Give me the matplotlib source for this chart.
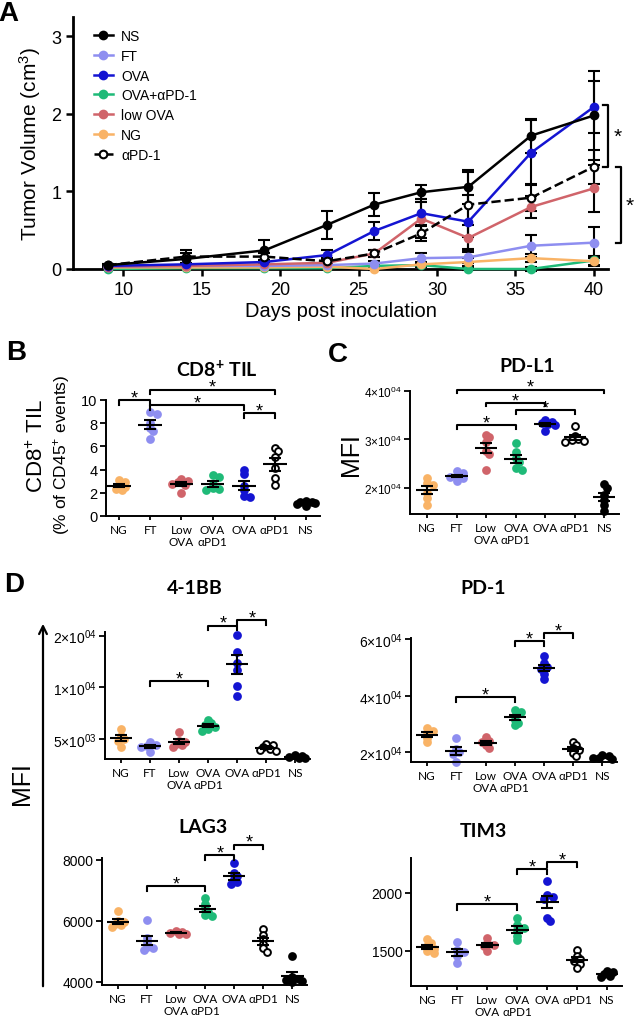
import numpy as np
import matplotlib
matplotlib.use("Agg")
import matplotlib.pyplot as plt
from matplotlib.lines import Line2D
from matplotlib.patches import FancyArrowPatch
from matplotlib.ticker import NullLocator

plt.rcParams['font.family'] = ['Liberation Sans', 'DejaVu Sans']
plt.rcParams['mathtext.fontset'] = 'custom'
plt.rcParams['mathtext.rm'] = 'Liberation Sans'
plt.rcParams['mathtext.it'] = 'Liberation Sans:italic'
plt.rcParams['mathtext.bf'] = 'Liberation Sans:bold'

# ---------------- panel A: tumour growth ----------------
days = [9, 14, 19, 23, 26, 29, 32, 36, 40]
ns_vol = [0.05, 0.13, 0.24, 0.57, 0.83, 0.99, 1.06, 1.72, 1.98]
ns_err = [0.02, 0.08, 0.13, 0.18, 0.15, 0.09, 0.22, 0.22, 0.58]
ft_vol = [0.03, 0.04, 0.04, 0.05, 0.07, 0.14, 0.15, 0.30, 0.34]
ft_err = [0.01, 0.02, 0.02, 0.02, 0.03, 0.06, 0.07, 0.14, 0.20]
ova_vol = [0.04, 0.06, 0.09, 0.18, 0.49, 0.72, 0.61, 1.50, 2.09]
ova_err = [0.01, 0.02, 0.03, 0.07, 0.12, 0.15, 0.35, 0.42, 0.34]
ovapd1_vol = [0.0, 0.01, 0.01, 0.01, 0.04, 0.05, 0.0, 0.0, 0.11]
ovapd1_err = [0.0, 0.01, 0.01, 0.01, 0.02, 0.03, 0.01, 0.02, 0.06]
low_vol = [0.03, 0.04, 0.06, 0.08, 0.20, 0.65, 0.40, 0.80, 1.04]
low_err = [0.01, 0.02, 0.02, 0.03, 0.04, 0.25, 0.17, 0.14, 0.30]
ng_vol = [0.02, 0.02, 0.02, 0.03, 0.0, 0.06, 0.09, 0.14, 0.10]
ng_err = [0.01, 0.01, 0.01, 0.01, 0.01, 0.03, 0.05, 0.05, 0.06]
pd1_vol = [0.05, 0.16, 0.16, 0.10, 0.20, 0.46, 0.83, 0.92, 1.32]
pd1_err = [0.01, 0.08, 0.05, 0.04, 0.04, 0.10, 0.42, 0.17, 0.22]

# ---------------- dot plots ----------------
cats = ['NG', 'FT', 'Low\nOVA', 'OVA\nαPD1', 'OVA', 'αPD1', 'NS']
colors = ['#F9B366', '#8E8EF0', '#D0646A', '#1FBA78', '#1414D2', 'black', 'black']

cd8 = [[3.1, 2.9, 2.6, 2.5, 2.3, 2.2],
       [9.0, 8.8, 8.0, 7.6, 7.3, 6.6],
       [3.2, 3.0, 2.9, 2.8, 2.7, 2.0],
       [3.5, 3.4, 2.8, 2.4, 2.3, 2.2],
       [4.0, 3.6, 2.6, 2.2, 1.7, 1.6],
       [5.9, 5.6, 5.1, 4.1, 3.3, 2.7],
       [1.3, 1.2, 1.2, 1.1, 1.0, 0.9]]
pdl1 = [[22000, 21000, 20500, 19000, 18000, 16500],
        [23500, 23000, 22500, 22200, 22000, 21500],
        [31000, 30400, 29400, 27700, 27000, 23700],
        [29200, 27400, 26100, 25300, 24100, 23600],
        [34100, 33700, 33300, 33100, 32900, 31700],
        [32800, 30700, 30100, 29800, 29600, 29400],
        [20700, 20000, 18500, 17500, 16500, 15200]]
bb41 = [[5700, 5200, 5000, 4900, 4500],
        [4800, 4650, 4550, 4500, 4200],
        [5500, 4900, 4800, 4700, 4600, 4500],
        [6500, 6200, 6000, 5900, 5700, 5600],
        [20200, 16150, 13940, 12700, 10170, 8920],
        [4700, 4600, 4500, 4400, 4300, 4250],
        [4050, 4000, 3950, 3900, 3900]]
pd1_mfi = [[28400, 27500, 26500, 25000, 23500],
           [25000, 21000, 20000, 19500, 16500],
           [25200, 24000, 23500, 22500, 21500],
           [35000, 34300, 33000, 31500, 30500, 29500],
           [54000, 51500, 50300, 49500, 47600, 46000],
           [23500, 22500, 21500, 20700, 19800, 18800],
           [19000, 18500, 18000, 17800, 17600]]
lag3 = [[6330, 6000, 5950, 5900, 5850, 5800],
        [6030, 5450, 5300, 5150, 5050, 5100],
        [5650, 5620, 5600, 5580, 5560],
        [6750, 6550, 6400, 6300, 6200, 6150],
        [7900, 7550, 7450, 7350, 7250, 7200],
        [5720, 5550, 5400, 5250, 5100, 4980],
        [4840, 4150, 4100, 4060, 4030, 4010]]
tim3 = [[1600, 1570, 1540, 1520, 1500, 1480],
        [1580, 1510, 1490, 1460, 1400],
        [1610, 1570, 1550, 1540, 1500],
        [1780, 1720, 1700, 1680, 1630, 1590],
        [2105, 1980, 1960, 1950, 1780, 1755],
        [1510, 1460, 1430, 1410, 1390, 1355],
        [1330, 1315, 1300, 1285, 1275]]

W, H = 634, 1020
fig = plt.figure(figsize=(W / 100, H / 100), dpi=100)


def rect(l, r, t, b):
    return [l / W, 1 - b / H, (r - l) / W, (b - t) / H]


def ftext(x, y, s, **kw):
    fig.text(x / W, 1 - y / H, s, **kw)


# ---------------- A ----------------
axA = fig.add_axes(rect(73, 608, 18, 270))
series = [
    (ovapd1_vol, ovapd1_err, colors[3], '-', colors[3], 'OVA+αPD-1'),
    (ng_vol, ng_err, colors[0], '-', colors[0], 'NG'),
    (ft_vol, ft_err, colors[1], '-', colors[1], 'FT'),
    (low_vol, low_err, colors[2], '-', colors[2], 'low OVA'),
    (ova_vol, ova_err, colors[4], '-', colors[4], 'OVA'),
    (pd1_vol, pd1_err, 'black', '--', 'white', 'αPD-1'),
    (ns_vol, ns_err, 'black', '-', 'black', 'NS'),
]
handles = {}
for vol, err, c, ls, fc, lab in series:
    axA.errorbar(days, vol, yerr=err, fmt='none', ecolor='black', elinewidth=1.5,
                 capsize=4, capthick=1.5, zorder=2, clip_on=False)
    axA.plot(days, vol, ls=ls, color=c, lw=1.8, marker='o', ms=5.5, mfc=fc, mec=c,
             mew=1.5, zorder=3, clip_on=False)
    handles[lab] = Line2D([], [], ls=ls, color=c, lw=1.8, marker='o', ms=5.5, mfc=fc,
                          mec=c, mew=1.5)
order = ['NS', 'FT', 'OVA', 'OVA+αPD-1', 'low OVA', 'NG', 'αPD-1']
axA.legend([handles[k] for k in order], order, loc='upper left', bbox_to_anchor=(0.028, 0.975),
           frameon=False, fontsize=10, handlelength=1.4, labelspacing=0.42,
           handletextpad=0.6, borderaxespad=0)
axA.set_xlim(6.8, 40.9)
axA.set_ylim(0, 3.25)
axA.set_xticks([10, 15, 20, 25, 30, 35, 40])
axA.set_yticks([0, 1, 2, 3])
axA.tick_params(labelsize=13, width=1.8, length=5)
for s in ['top', 'right']:
    axA.spines[s].set_visible(False)
for s in ['left', 'bottom']:
    axA.spines[s].set_linewidth(2)
axA.set_xlabel('Days post inoculation', fontsize=14.5, labelpad=2)
axA.set_ylabel('Tumor Volume (cm$^3$)', fontsize=15, labelpad=6)
# significance brackets at the right side
for xb, y1, y2 in [(40.9, 2.12, 1.31), (41.7, 1.31, 0.34)]:
    axA.plot([xb - 0.3, xb, xb, xb - 0.3], [y1, y1, y2, y2], color='black', lw=1.6,
             clip_on=False)
    axA.text(xb + 0.6, (y1 + y2) / 2, '*', fontsize=15, ha='center', va='center')

ftext(8, 14, 'A', fontsize=20, fontweight='bold', ha='center', va='center')


# ---------------- dot plot helpers ----------------
def swarm(vals, lo, hi, log, h_px, cat_px, diam=7.0):
    v = np.log10(vals) if log else np.asarray(vals, float)
    lo, hi = (np.log10(lo), np.log10(hi)) if log else (lo, hi)
    y = (v - lo) / (hi - lo) * h_px
    offs = np.zeros(len(v))
    placed = []
    steps = [0, 1, -1, 2, -2, 3, -3]
    for k in np.argsort(-y):
        best, best_d = 0.0, -1.0
        for st in steps:
            x = st * diam * 0.45
            d = min([np.hypot(x - px, y[k] - py) for px, py in placed] or [99])
            if d >= 0.6 * diam:
                best = x
                break
            if d > best_d:
                best, best_d = x, d
        placed.append((best, y[k]))
        offs[k] = best / cat_px
    return offs


def dotplot(box, data, ylim, ticks, labels, tick_fs=10, log=False, xlim=(-0.55, 6.5)):
    ax = fig.add_axes(rect(*box))
    if log:
        ax.set_yscale('log')
    h_px = box[3] - box[2]
    cat_px = (box[1] - box[0]) / (xlim[1] - xlim[0])
    for i, vals in enumerate(data):
        vals = np.asarray(vals, float)
        offs = swarm(vals, ylim[0], ylim[1], log, h_px, cat_px)
        fc = 'white' if i == 5 else colors[i]
        ax.scatter(i + offs, vals, s=24, facecolor=fc, edgecolor=colors[i], linewidth=1.4,
                   zorder=2, clip_on=False)
        m = vals.mean()
        se = vals.std(ddof=1) / np.sqrt(len(vals))
        ax.hlines(m, i - 0.38, i + 0.38, color='black', lw=1.5, zorder=3)
        ax.errorbar(i, m, yerr=se, fmt='none', ecolor='black', elinewidth=1.5, capsize=4.5,
                    capthick=1.5, zorder=3)
    ax.set_xlim(*xlim)
    ax.set_ylim(*ylim)
    ax.set_yticks(ticks)
    ax.set_yticklabels(labels)
    if log:
        ax.yaxis.set_minor_locator(NullLocator())
    ax.set_xticks(range(len(cats)))
    ax.set_xticklabels(cats, fontfamily='Lato', fontsize=8.5, linespacing=1.15)
    ax.tick_params(axis='y', labelsize=tick_fs, width=1.3, length=4, pad=2)
    ax.tick_params(axis='x', width=1.3, length=3, pad=2.5)
    for s in ['top', 'right']:
        ax.spines[s].set_visible(False)
    for s in ['left', 'bottom']:
        ax.spines[s].set_linewidth(1.4)
    return ax


def bracket(ax, i1, i2, y, drop, log=False):
    yb = y / drop if log else y - drop
    ax.plot([i1, i1, i2, i2], [yb, y, y, yb], color='black', lw=1.5, clip_on=False)
    ax.annotate('*', ((i1 + i2) / 2, y), xytext=(0, 1.5), textcoords='offset points',
                ha='center', va='center', fontsize=13, annotation_clip=False)


def sci(a, e):
    return '%d×10$^{%s}$' % (a, e)


title_kw = dict(fontfamily='Lato', fontweight='bold', fontsize=14, ha='center', va='center')

# ---------------- B ----------------
axB = dotplot((106, 320, 401, 517), cd8, (0, 10), [0, 2, 4, 6, 8, 10],
              ['0', '2', '4', '6', '8', '10'], tick_fs=10.5, xlim=(-0.42, 6.45))
bracket(axB, 0, 1, 10.0, 0.4)
bracket(axB, 1, 5, 10.9, 0.4)
bracket(axB, 1, 4, 9.55, 0.4)
bracket(axB, 4, 5, 8.85, 0.4)
ftext(217, 369, 'CD8$^{\\mathbf{+}}$ TIL', **title_kw)
ftext(37, 446, 'CD8$^{+}$ TIL', fontsize=16, rotation=90, ha='center', va='center')
ftext(62, 455, '(% of CD45$^{+}$ events)', fontsize=12.5, rotation=90, ha='center',
      va='center')
ftext(16, 353, 'B', fontsize=20, fontweight='bold', ha='center', va='center')

# ---------------- C ----------------
axC = dotplot((410, 619, 392, 515), pdl1, (14600, 40000), [20000, 30000, 40000],
              [sci(2, '04'), sci(3, '04'), sci(4, '04')], tick_fs=8.5, xlim=(-0.58, 6.5))
bracket(axC, 1, 6, 40300, 800)
bracket(axC, 1, 3, 32900, 800)
bracket(axC, 2, 4, 37600, 800)
bracket(axC, 3, 5, 36100, 800)
ftext(527, 366, 'PD-L1', **title_kw)
ftext(351, 455, 'MFI', fontsize=18, rotation=90, ha='center', va='center')
ftext(338, 355, 'C', fontsize=20, fontweight='bold', ha='center', va='center')

# ---------------- D ----------------
axD1 = dotplot((105, 310, 633, 760), bb41, (3830, 21000), [5000, 10000, 20000],
               [sci(5, '03'), sci(1, '04'), sci(2, '04')], tick_fs=10, log=True)
bracket(axD1, 1, 3, 10900, 1.065, log=True)
bracket(axD1, 3, 4, 22900, 1.065, log=True)
bracket(axD1, 4, 5, 24700, 1.065, log=True)
ftext(195, 589, '4-1BB', **title_kw)

axD2 = dotplot((411, 617, 639, 763), pd1_mfi, (16500, 60500), [20000, 40000, 60000],
               [sci(2, '04'), sci(4, '04'), sci(6, '04')], tick_fs=10)
bracket(axD2, 1, 3, 39500, 1700)
bracket(axD2, 3, 4, 59400, 1700)
bracket(axD2, 4, 5, 62100, 1700)
ftext(483, 589, 'PD-1', **title_kw)

axD3 = dotplot((102, 307, 859, 986), lag3, (3900, 8050), [4000, 6000, 8000],
               ['4000', '6000', '8000'], tick_fs=10)
bracket(axD3, 1, 3, 7135, 150)
bracket(axD3, 3, 4, 8140, 150)
bracket(axD3, 4, 5, 8490, 150)
ftext(203, 828, 'LAG3', **title_kw)

axD4 = dotplot((411, 622, 859, 987), tim3, (1198, 2300), [1500, 2000],
               ['1500', '2000'], tick_fs=10)
bracket(axD4, 1, 3, 1900, 45)
bracket(axD4, 3, 4, 2205, 45)
bracket(axD4, 4, 5, 2268, 45)
ftext(483, 832, 'TIM3', **title_kw)

ftext(14, 585, 'D', fontsize=20, fontweight='bold', ha='center', va='center')
ftext(22, 784, 'MFI', fontsize=18, rotation=90, ha='center', va='center')
fig.add_artist(FancyArrowPatch((43 / W, 1 - 990 / H), (43 / W, 1 - 622 / H),
                               transform=fig.transFigure, arrowstyle='->',
                               mutation_scale=14, lw=1.6, color='black'))

fig.savefig('out.png', dpi=100)
